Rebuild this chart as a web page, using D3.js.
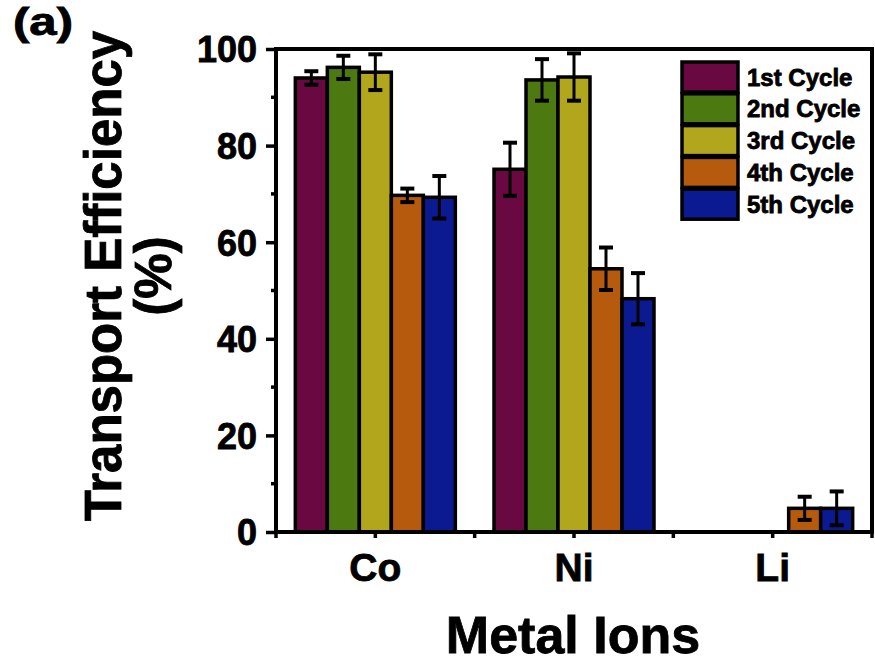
<!DOCTYPE html>
<html>
<head>
<meta charset="utf-8">
<script src="https://cdn.jsdelivr.net/npm/d3@7"></script>
<style>
  body { margin: 0; background: #fff; }
  text { font-family: "Liberation Sans", Arial, sans-serif; font-weight: bold; fill: #000; stroke: #000; stroke-width: 0.8px; }
</style>
</head>
<body>
<svg id="chart" width="875" height="663"></svg>
<script>
// categories and series
var metals = ["Co", "Ni", "Li"];
var cycles = ["1st Cycle", "2nd Cycle", "3rd Cycle", "4th Cycle", "5th Cycle"];
var colors = ["#6a0842", "#4c7a10", "#b2a71c", "#b65a0e", "#0c1a92"];

// efficiency (%) per cycle, in metal order Co, Ni, Li
var cycle1 = [94.0, 75.1, 0];
var cycle2 = [96.2, 93.6, 0];
var cycle3 = [95.2, 94.2, 0];
var cycle4 = [69.7, 54.5, 4.9];
var cycle5 = [69.3, 48.3, 4.9];

// error bars (±)
var err1 = [1.4, 5.5, 0];
var err2 = [2.4, 4.3, 0];
var err3 = [3.7, 4.9, 0];
var err4 = [1.4, 4.4, 2.4];
var err5 = [4.4, 5.3, 3.5];

var yTicks = [0, 20, 40, 60, 80, 100];
var yMinor = [10, 30, 50, 70, 90];

var values = [cycle1, cycle2, cycle3, cycle4, cycle5];
var errors = [err1, err2, err3, err4, err5];

var svg = d3.select("#chart");
var margin = { left: 276, right: 872, top: 49, bottom: 532 };

var x0 = d3.scaleBand().domain(metals).range([margin.left, margin.right]).padding(0);
var groupW = 160;
var x1 = d3.scaleBand().domain(cycles).range([0, groupW]);
var offset = (x0.bandwidth() - groupW) / 2;
var y = d3.scaleLinear().domain([0, 100]).range([margin.bottom, margin.top]);

var data = [];
metals.forEach(function(m, i) {
  cycles.forEach(function(c, j) {
    data.push({ metal: m, cycle: c, value: values[j][i], err: errors[j][i], color: colors[j] });
  });
});

// bars
svg.append("g").selectAll("rect")
  .data(data)
  .enter().append("rect")
    .attr("x", function(d) { return x0(d.metal) + offset + x1(d.cycle); })
    .attr("y", function(d) { return y(d.value); })
    .attr("width", x1.bandwidth())
    .attr("height", function(d) { return margin.bottom - y(d.value); })
    .attr("fill", function(d) { return d.color; })
    .attr("stroke", "#000")
    .attr("stroke-width", 3.5);

// error bars
var eb = svg.append("g").selectAll("g")
  .data(data.filter(function(d) { return d.err > 0; }))
  .enter().append("g")
    .attr("transform", function(d) {
      return "translate(" + (x0(d.metal) + offset + x1(d.cycle) + x1.bandwidth() / 2) + ",0)";
    })
    .attr("stroke", "#000");
eb.append("line")
  .attr("y1", function(d) { return y(d.value + d.err); })
  .attr("y2", function(d) { return y(d.value - d.err); })
  .attr("stroke-width", 3);
eb.append("line")
  .attr("x1", -7).attr("x2", 7)
  .attr("y1", function(d) { return y(d.value + d.err); })
  .attr("y2", function(d) { return y(d.value + d.err); })
  .attr("stroke-width", 4);
eb.append("line")
  .attr("x1", -7).attr("x2", 7)
  .attr("y1", function(d) { return y(d.value - d.err); })
  .attr("y2", function(d) { return y(d.value - d.err); })
  .attr("stroke-width", 4);

// frame
svg.append("rect")
  .attr("x", margin.left).attr("y", margin.top)
  .attr("width", margin.right - margin.left).attr("height", margin.bottom - margin.top)
  .attr("fill", "none").attr("stroke", "#000").attr("stroke-width", 4);

// y axis
var yAxis = d3.axisLeft(y).tickValues(yTicks).tickSize(10).tickPadding(9);
var gy = svg.append("g").attr("transform", "translate(" + margin.left + ",0)").call(yAxis);
gy.select(".domain").remove();
gy.selectAll(".tick line").attr("stroke-width", 3.5);
gy.selectAll(".tick text").style("font-size", "36px").attr("dy", "0.36em");
svg.append("g").selectAll("line")
  .data(yMinor)
  .enter().append("line")
    .attr("x1", margin.left - 5).attr("x2", margin.left)
    .attr("y1", function(d) { return y(d); })
    .attr("y2", function(d) { return y(d); })
    .attr("stroke", "#000").attr("stroke-width", 3.5);

// x axis
var xAxis = d3.axisBottom(x0).tickSize(6).tickPadding(15);
var gx = svg.append("g").attr("transform", "translate(0," + margin.bottom + ")").call(xAxis);
gx.select(".domain").remove();
gx.selectAll(".tick line").attr("stroke-width", 3.5);
gx.selectAll(".tick text").style("font-size", "39px");
var bounds = metals.map(function(m) { return x0(m); }).concat([margin.right]);
svg.append("g").selectAll("line")
  .data(bounds)
  .enter().append("line")
    .attr("x1", function(d) { return d; }).attr("x2", function(d) { return d; })
    .attr("y1", margin.bottom).attr("y2", margin.bottom + 6)
    .attr("stroke", "#000").attr("stroke-width", 3.5);

// axis titles
svg.append("text")
  .attr("x", (margin.left + margin.right) / 2 - 1).attr("y", 653)
  .attr("text-anchor", "middle")
  .style("font-size", "52px")
  .text("Metal Ions");

var yt = svg.append("text")
  .attr("transform", "translate(121,276)rotate(-90)")
  .attr("text-anchor", "middle")
  .style("font-size", "51px");
yt.append("tspan").attr("x", 0).attr("y", 0).text("Transport Efficiency");
yt.append("tspan").attr("x", 0).attr("y", 50).text("(%)");

svg.append("text")
  .attr("x", 13).attr("y", 35)
  .attr("textLength", 60)
  .attr("lengthAdjust", "spacingAndGlyphs")
  .style("font-size", "38px")
  .text("(a)");

// legend
var legend = svg.append("g").attr("transform", "translate(682,62)");
var li = legend.selectAll("g")
  .data(cycles)
  .enter().append("g")
    .attr("transform", function(d, i) { return "translate(0," + (i * 31.8) + ")"; });
li.append("rect")
  .attr("width", 56).attr("height", 30)
  .attr("fill", function(d, i) { return colors[i]; })
  .attr("stroke", "#000").attr("stroke-width", 3.5);
li.append("text")
  .attr("x", 65).attr("y", 15).attr("dy", "0.36em")
  .style("font-size", "24px")
  .text(function(d) { return d; });
</script>
</body>
</html>
